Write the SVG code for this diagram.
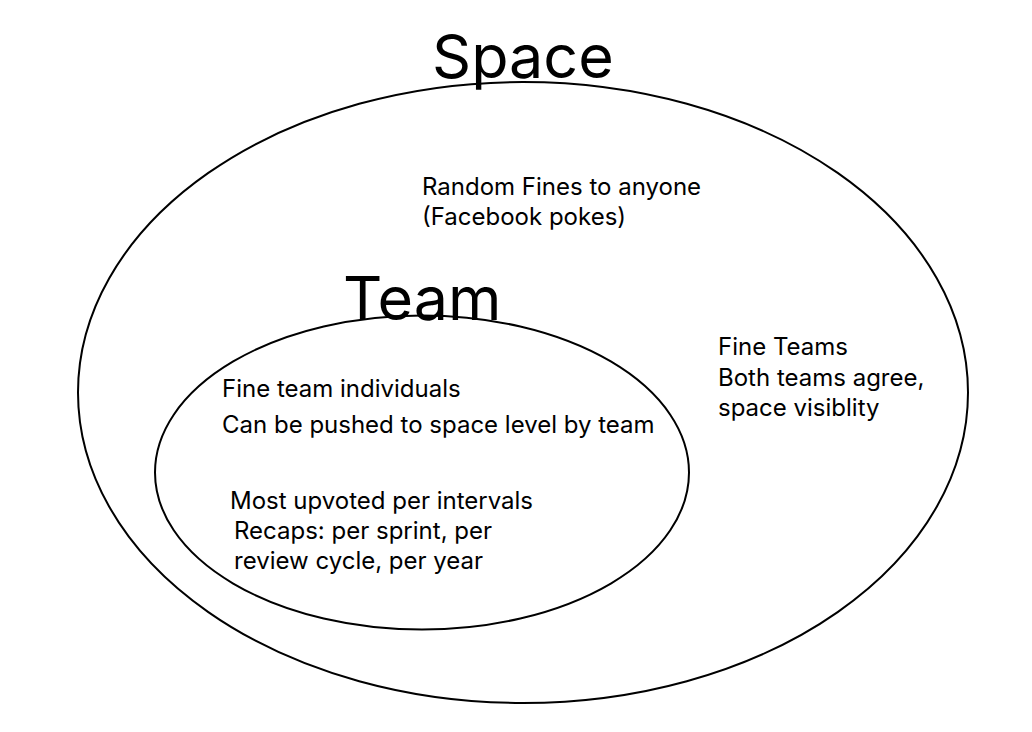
<svg xmlns="http://www.w3.org/2000/svg" width="1032" height="732" viewBox="0 0 1032 732">
<style>
.t{font-family:Inter,"Liberation Sans",sans-serif;font-size:24px;fill:#000}
.h{font-family:Inter,"Liberation Sans",sans-serif;font-size:61px;fill:#000}
.e{fill:none;stroke:#000;stroke-width:2}
</style>
<rect width="1032" height="732" fill="#fff"/>
<g id="space">
<ellipse class="e" cx="523" cy="392.5" rx="445" ry="310.5"/>
<text class="h" x="432" y="78">Space</text>
<text class="t" x="422" y="195">Random Fines to anyone</text>
<text class="t" x="422" y="225">(Facebook pokes)</text>
<text class="t" x="718" y="355">Fine Teams</text>
<text class="t" x="718" y="386">Both teams agree,</text>
<text class="t" x="718" y="416">space visiblity</text>
</g>
<g id="team">
<ellipse class="e" cx="422" cy="472.5" rx="267" ry="157"/>
<text class="h" x="343" y="320">Team</text>
<text class="t" x="222" y="397">Fine team individuals</text>
<text class="t" x="222" y="433">Can be pushed to space level by team</text>
<text class="t" x="230" y="509">Most upvoted per intervals</text>
<text class="t" x="234" y="539">Recaps: per sprint, per</text>
<text class="t" x="234" y="569">review cycle, per year</text>
</g>
<g id="connectors"/>
</svg>
